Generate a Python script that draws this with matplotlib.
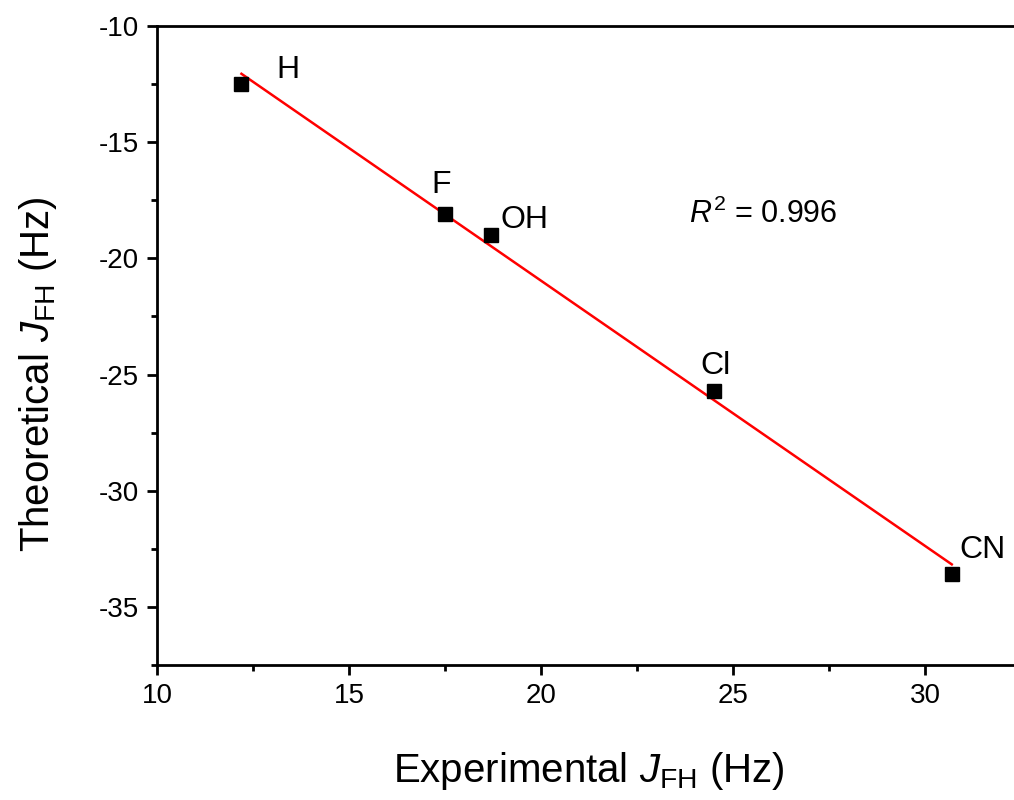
import numpy as np
import matplotlib.pyplot as plt
from matplotlib.ticker import MultipleLocator

plt.rcParams['font.family'] = ['Liberation Sans', 'DejaVu Sans']
plt.rcParams['mathtext.fontset'] = 'custom'
plt.rcParams['mathtext.rm'] = 'Liberation Sans'
plt.rcParams['mathtext.it'] = 'Liberation Sans:italic'
plt.rcParams['axes.unicode_minus'] = False

# experimental vs calculated coupling constants
substituents = ['H', 'F', 'OH', 'Cl', 'CN']
j_exp = np.array([12.2, 17.5, 18.7, 24.5, 30.7])
j_theo = np.array([-12.5, -18.1, -19.0, -25.7, -33.6])
r_squared = 0.996

# label placement (data coords, alignment)
label_pos = {
    'H': (13.1, -11.9, 'left'),
    'F': (17.4, -16.85, 'center'),
    'OH': (18.95, -18.35, 'left'),
    'Cl': (24.55, -24.65, 'center'),
    'CN': (30.9, -32.55, 'left'),
}

fig = plt.figure(figsize=(10.14, 8), dpi=100)
ax = fig.add_axes([0.1548, 0.16875, 0.852, 0.79875])

ax.plot(j_exp, j_theo, 's', color='black', markersize=9.5, zorder=3)

slope, intercept = np.polyfit(j_exp, j_theo, 1)
xf = np.array([j_exp.min(), j_exp.max()])
ax.plot(xf, slope * xf + intercept, color='red', lw=1.8, zorder=2)

for name in substituents:
    x, y, ha = label_pos[name]
    ax.text(x, y, name, fontsize=23, ha=ha, va='center')

ax.text(25.8, -18.1, r'$\mathit{R}^2$ = %.3f' % r_squared, fontsize=22,
        ha='center', va='center')

ax.set_xlim(10, 32.5)
ax.set_ylim(-37.5, -10)
ax.xaxis.set_major_locator(MultipleLocator(5))
ax.xaxis.set_minor_locator(MultipleLocator(2.5))
ax.yaxis.set_major_locator(MultipleLocator(5))
ax.yaxis.set_minor_locator(MultipleLocator(2.5))

for s in ax.spines.values():
    s.set_linewidth(2)

ax.tick_params(which='both', direction='out', width=2, top=False, right=False)
ax.tick_params(which='major', length=7, labelsize=20, pad=6)
ax.tick_params(which='minor', length=4)

ax.set_xlabel(r'Experimental $\mathit{J}_{\mathrm{FH}}$ (Hz)', fontsize=29)
ax.set_ylabel(r'Theoretical $\mathit{J}_{\mathrm{FH}}$ (Hz)', fontsize=29)
ax.xaxis.set_label_coords(0.5, -0.133)
ax.yaxis.set_label_coords(-0.113, 0.455)

fig.savefig('out.png', dpi=100)
